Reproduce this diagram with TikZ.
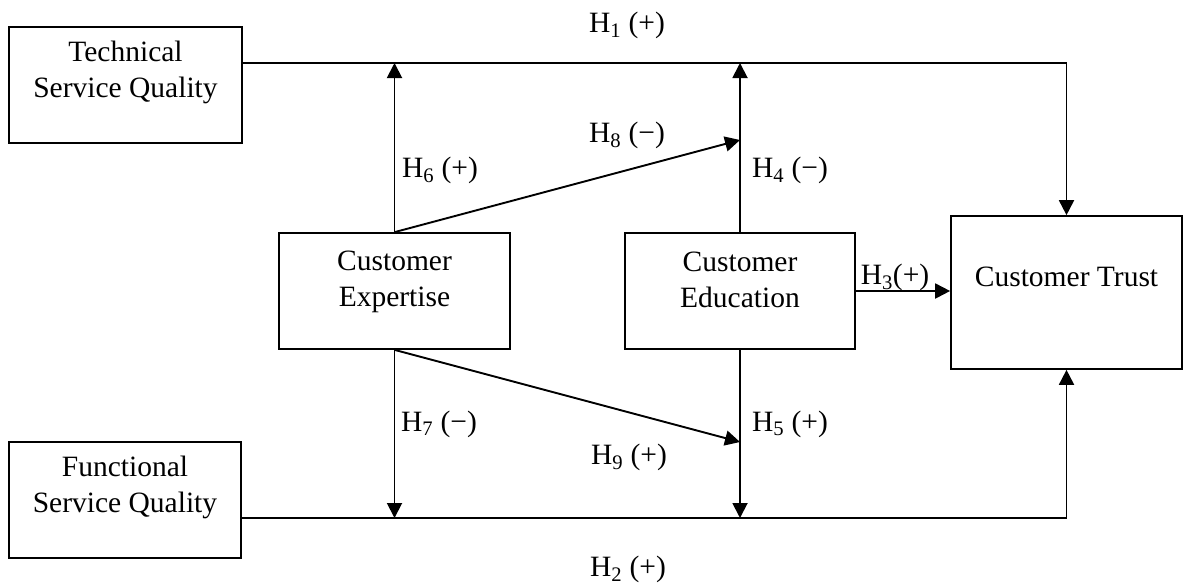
\documentclass[tikz,border=0pt]{standalone}
\usepackage{fontspec}
\setmainfont{Liberation Serif}
\usetikzlibrary{arrows.meta,calc}
\begin{document}
\begin{tikzpicture}[x=1pt,y=-1pt,
  box/.style={draw,line width=1.7pt,rectangle,inner sep=0pt},
  txt/.style={align=center,font=\fontsize{29.5}{36}\selectfont,inner sep=0pt},
  lab/.style={font=\fontsize{29.5}{36}\selectfont,inner sep=0pt,anchor=base},
  arr/.style={line width=1.9pt,-{Triangle[length=15pt,width=15pt]}}]
\useasboundingbox (0,0) rectangle (1185,584);
% boxes
\node[box,minimum width=233pt,minimum height=116pt] (tsq) at (125.5,85) {};
\node[box,minimum width=232pt,minimum height=116pt] (fsq) at (125,500) {};
\node[box,minimum width=231pt,minimum height=116pt] (ce) at (394.5,291) {};
\node[box,minimum width=230pt,minimum height=116pt] (ced) at (740,291) {};
\node[box,minimum width=231pt,minimum height=153pt] (ct) at (1066.5,292.5) {};
% box texts
\node[txt] (tsqt) at (125.5,72) {Technical\\Service Quality};
\node[txt] (fsqt) at (125,487) {Functional\\Service Quality};
\node[txt] (cet) at (394.5,282) {Customer\\Expertise};
\node[txt] (cedt) at (740,280) {Customer\\Education};
\node[txt] (ctt) at (1066.5,277) {Customer Trust};
% helper coordinates
\coordinate (top) at (0,63);
\coordinate (bot) at (0,518);
\coordinate (h8) at (740,140);
\coordinate (h9) at (740,442);
% connectors
\draw[arr] (tsq.east |- top) -| (ct.north);
\draw[arr] (fsq.east |- bot) -| (ct.south);
\draw[arr] (ce.north) -- (ce.north |- top);
\draw[arr] (ced.north) -- (ced.north |- top);
\draw[arr] (ce.north) -- (ced.north |- h8);
\draw[arr] (ced.east) -- (ced.east -| ct.west);
\draw[arr] (ce.south) -- (ce.south |- bot);
\draw[arr] (ced.south) -- (ced.south |- bot);
\draw[arr] (ce.south) -- (ced.south |- h9);
% labels
\node[lab] (l1) at (627,32) {H\textsubscript{1} (+)};
\node[lab] (l8) at (627,142) {H\textsubscript{8} (−)};
\node[lab] (l6) at (440,177) {H\textsubscript{6} (+)};
\node[lab] (l4) at (790,177) {H\textsubscript{4} (−)};
\node[lab] (l3) at (895,284) {H\textsubscript{3}(+)};
\node[lab] (l5) at (790,431) {H\textsubscript{5} (+)};
\node[lab] (l7) at (439,431) {H\textsubscript{7} (−)};
\node[lab] (l9) at (629,464) {H\textsubscript{9} (+)};
\node[lab] (l2) at (628,576) {H\textsubscript{2} (+)};
\end{tikzpicture}
\end{document}
